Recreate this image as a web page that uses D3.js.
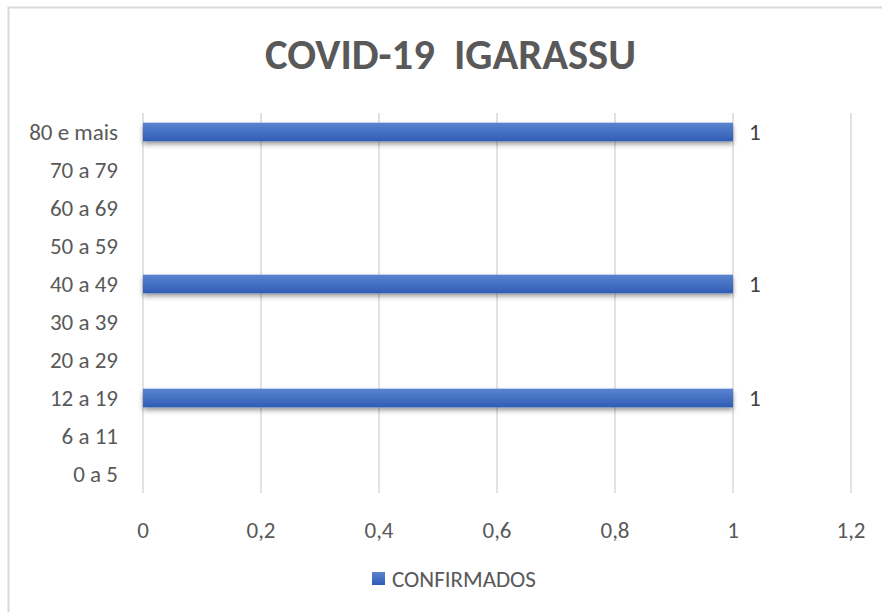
<!DOCTYPE html>
<html><head><meta charset="utf-8">
<script src="https://cdn.jsdelivr.net/npm/d3@7"></script>
<style>body{margin:0;background:#fff}svg{display:block}</style>
</head><body>
<script>
const categories = ["0 a 5","6 a 11","12 a 19","20 a 29","30 a 39","40 a 49","50 a 59","60 a 69","70 a 79","80 e mais"];
const confirmados = [0,0,1,0,0,1,0,0,0,1];
const xTicks = [0,0.2,0.4,0.6,0.8,1,1.2];
const xTickLabels = ["0","0,2","0,4","0,6","0,8","1","1,2"];
const title = "COVID-19  IGARASSU";
const seriesName = "CONFIRMADOS";

const W = 882, H = 612;
const font = "Carlito, Lato, 'Liberation Sans', sans-serif";
const fs = 23;
const svg = d3.select("body").append("svg").attr("width", W).attr("height", H);
svg.append("rect").attr("width", W).attr("height", H).attr("fill", "#fff");

const defs = svg.append("defs");
const grad = defs.append("linearGradient").attr("id","barGrad").attr("x1",0).attr("x2",0).attr("y1",0).attr("y2",1);
grad.append("stop").attr("offset","0%").attr("stop-color","#5a84d0");
grad.append("stop").attr("offset","100%").attr("stop-color","#2f5db5");
const flt = defs.append("filter").attr("id","shadow").attr("x","-5%").attr("y","-50%").attr("width","110%").attr("height","250%");
flt.append("feDropShadow").attr("dx",0).attr("dy",3).attr("stdDeviation",2.5).attr("flood-color","#000").attr("flood-opacity",0.4);

// chart border
svg.append("rect").attr("x",8.5).attr("y",7.5).attr("width",W+20).attr("height",H+20)
  .attr("fill","none").attr("stroke","#d9d9d9").attr("stroke-width",2);

const x = d3.scaleLinear().domain([0,1.2]).range([143,851]);
const y = d3.scaleBand().domain(categories.slice().reverse()).range([113,493]).paddingInner(0.51).paddingOuter(0.255);

// gridlines
svg.append("g").selectAll("line").data(xTicks).join("line")
  .attr("x1", d=>x(d)).attr("x2", d=>x(d)).attr("y1",113).attr("y2",493)
  .attr("stroke","#d9d9d9").attr("stroke-width",1.5);

const barData = categories.map((c,i)=>({c, v:confirmados[i]})).filter(d=>d.v>0);

// bars
svg.append("g").selectAll("rect").data(barData).join("rect")
  .attr("x", x(0)).attr("y", d=>y(d.c)).attr("width", d=>x(d.v)-x(0)).attr("height", y.bandwidth())
  .attr("fill","url(#barGrad)").attr("filter","url(#shadow)");

// data labels
svg.append("g").selectAll("text").data(barData).join("text")
  .attr("x", d=>x(d.v)+16).attr("y", d=>y(d.c)+y.bandwidth()/2).attr("dy","0.35em")
  .attr("font-family",font).attr("font-size",fs).attr("fill","#404040").text(d=>d.v);

// y axis labels
svg.append("g").selectAll("text").data(categories).join("text")
  .attr("x",118).attr("y", d=>y(d)+y.bandwidth()/2).attr("dy","0.35em").attr("text-anchor","end")
  .attr("font-family",font).attr("font-size",fs).attr("fill","#595959").text(d=>d);

// x axis labels
svg.append("g").selectAll("text").data(xTicks).join("text")
  .attr("x", d=>x(d)).attr("y",530).attr("dy","0.35em").attr("text-anchor","middle")
  .attr("font-family",font).attr("font-size",fs).attr("fill","#595959").text((d,i)=>xTickLabels[i]);

// title
svg.append("text").attr("x",450.5).attr("y",54).attr("dy","0.35em").attr("text-anchor","middle")
  .style("white-space","pre")
  .attr("font-family",font).attr("font-weight","bold").attr("font-size",42).attr("fill","#595959")
  .attr("textLength",371).attr("lengthAdjust","spacingAndGlyphs").text(title);

// legend
svg.append("rect").attr("x",372).attr("y",572).attr("width",13).attr("height",13).attr("fill","url(#barGrad)");
svg.append("text").attr("x",392).attr("y",578.5).attr("dy","0.35em")
  .attr("font-family",font).attr("font-size",fs).attr("fill","#595959").text(seriesName);
</script>
</body></html>
